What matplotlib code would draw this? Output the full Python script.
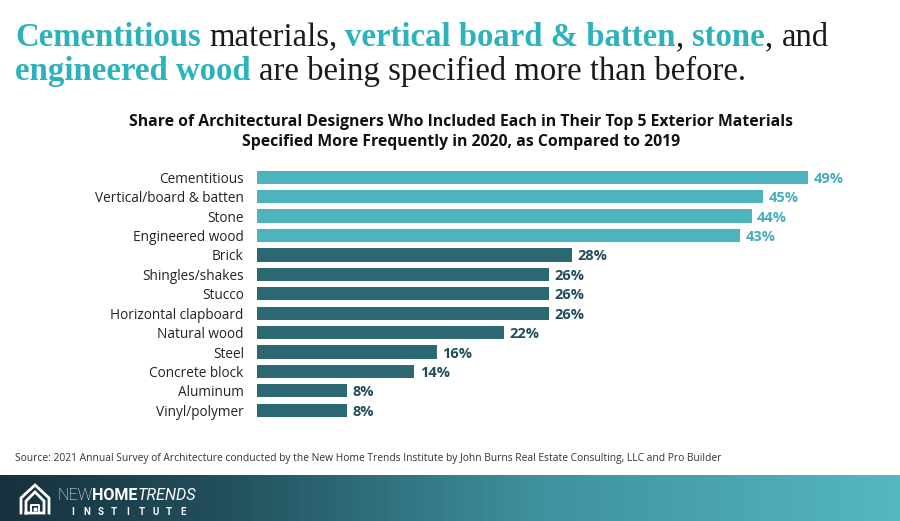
import numpy as np
import matplotlib
matplotlib.use("Agg")
import matplotlib.pyplot as plt
from matplotlib.colors import LinearSegmentedColormap

# data
materials = ["Cementitious", "Vertical/board & batten", "Stone", "Engineered wood",
             "Brick", "Shingles/shakes", "Stucco", "Horizontal clapboard",
             "Natural wood", "Steel", "Concrete block", "Aluminum", "Vinyl/polymer"]
shares = [49, 45, 44, 43, 28, 26, 26, 26, 22, 16, 14, 8, 8]
highlighted = [True, True, True, True] + [False] * 9

title_lines = [
    [("Cementitious", "teal"), ("materials,", "ink"), ("vertical board & batten", "teal"),
     (",", "ink_nospace"), ("stone", "teal"), (",", "ink_nospace"), ("and", "ink")],
    [("engineered wood", "teal"), ("are being specified more than before.", "ink")],
]
subtitle = ("Share of Architectural Designers Who Included Each in Their Top 5 Exterior Materials\n"
            "Specified More Frequently in 2020, as Compared to 2019")
source = ("Source: 2021 Annual Survey of Architecture conducted by the New Home Trends Institute "
          "by John Burns Real Estate Consulting, LLC and Pro Builder")

LIGHT = "#4db3bf"
DARK = "#2b6871"
LIGHT_TXT = "#45adba"
DARK_TXT = "#1d4d58"
TEAL = "#2cb2bb"
INK = "#1a1a1a"

W, H = 900, 521
fig = plt.figure(figsize=(9, 5.21), dpi=100)
fig.patch.set_facecolor("white")

# bar chart axes (pixel placement)
x_left, x_right = 257, 857
y_top, y_bot = 167.5, 420
ax = fig.add_axes([x_left / W, 1 - y_bot / H, (x_right - x_left) / W, (y_bot - y_top) / H])
ypos = np.arange(len(materials))
colors = [LIGHT if h else DARK for h in highlighted]
ax.barh(ypos, shares, height=0.68, color=colors)
ax.set_xlim(0, (x_right - x_left) / 11.24)
ax.set_ylim(len(materials) - 0.5, -0.5)
ax.set_yticks(ypos)
ax.set_yticklabels(materials, fontsize=9.8, fontfamily="Open Sans", color="#222222")
ax.tick_params(axis="y", length=0, pad=9.5)
ax.set_xticks([])
for s in ax.spines.values():
    s.set_visible(False)
for yi, v, h in zip(ypos, shares, highlighted):
    ax.text(v + 0.5, yi + 0.08, f"{v}%", va="center", ha="left", fontsize=10.5,
            fontweight="bold", fontfamily="Open Sans", color=LIGHT_TXT if h else DARK_TXT)

# overlay axes in pixel coordinates
ov = fig.add_axes([0, 0, 1, 1], zorder=5)
ov.set_xlim(0, W)
ov.set_ylim(H, 0)
ov.axis("off")
ov.patch.set_alpha(0)

# title with coloured words
r = fig.canvas.get_renderer()


def adv(txt, **kw):
    a = ov.text(0, 0, "|" + txt + "|", **kw)
    b = ov.text(0, 0, "||", **kw)
    w = a.get_window_extent(r).width - b.get_window_extent(r).width
    a.remove()
    b.remove()
    return w


tkw = dict(fontsize=23.6, fontfamily="Liberation Serif")
space = adv(" ", **tkw)
for line, base in zip(title_lines, [46, 80]):
    x = 15
    for i, (txt, kind) in enumerate(line):
        if i > 0 and kind != "ink_nospace":
            x += space
        kw = dict(tkw)
        if kind == "teal":
            kw.update(color=TEAL, fontweight="bold")
        else:
            kw.update(color=INK)
        ov.text(x, base, txt, ha="left", va="baseline", **kw)
        x += adv(txt, **kw)

# subtitle
ov.text(461, 132, subtitle, ha="center", va="center", fontsize=11.3, fontweight="bold",
        fontfamily="Open Sans", color="#111111", linespacing=1.25)

# source
ov.text(15, 458, source, ha="left", va="center", fontsize=7.4, fontfamily="Open Sans",
        color="#333333")

# footer gradient band
cmap = LinearSegmentedColormap.from_list(
    "band", [(0, "#18303d"), (0.25, "#22505d"), (0.6, "#3f919e"), (1, "#54b8c3")])
grad = np.linspace(0, 1, 256).reshape(1, -1)
ov.imshow(grad, cmap=cmap, extent=(0, W, H, 475), aspect="auto", zorder=1)
ov.set_xlim(0, W)
ov.set_ylim(H, 0)

# logo: house icon
lw = 2.0
ov.plot([21, 21, 35, 49, 49], [513, 498, 485, 498, 513], color="white", lw=lw, zorder=3,
        solid_joinstyle="miter")
ov.plot([26, 26, 35, 44, 44, 26], [513, 501, 492, 501, 513, 513], color="white", lw=lw, zorder=3,
        solid_joinstyle="miter")
ov.plot([31, 31, 39, 39], [513, 505, 505, 513], color="white", lw=1.4, zorder=3)
ov.plot([35], [509], marker="o", ms=2, color="white", zorder=3)

# logo: wordmark
lkw = dict(fontsize=11.6, fontfamily="Roboto", color="white", va="baseline", ha="left", zorder=3)
x = 57
for txt, extra in [("NEW", dict(fontweight="light")), ("HOME", dict(fontweight="bold")),
                   ("TRENDS", dict(fontstyle="italic"))]:
    kw = dict(lkw)
    kw.update(extra)
    ov.text(x, 500, txt, **kw)
    x += adv(txt, **kw)
for i, ch in enumerate("INSTITUTE"):
    ov.text(73 + i * 13.7, 512, ch, fontsize=7, fontweight="bold", fontfamily="Roboto",
            color="white", ha="center", va="center", zorder=3)

fig.savefig("out.png", dpi=100)
